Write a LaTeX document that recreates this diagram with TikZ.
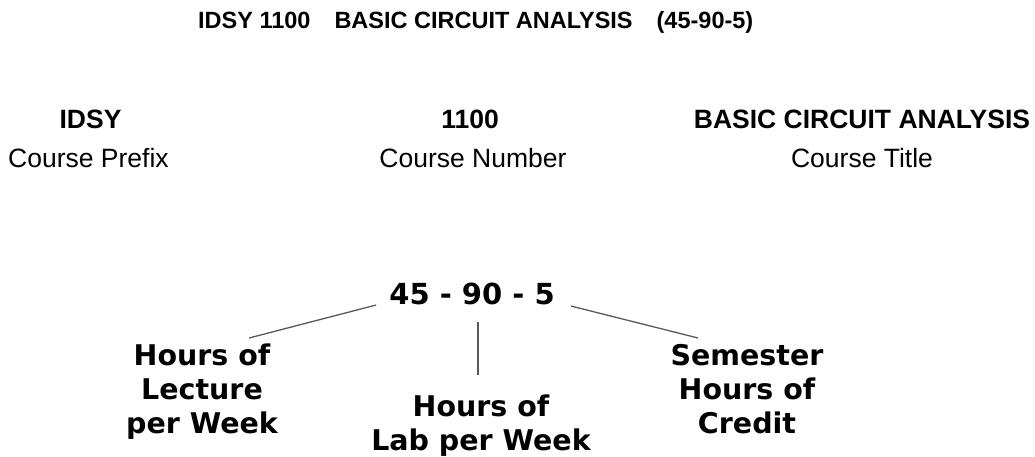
\documentclass[tikz,border=0pt]{standalone}
\usepackage{fontspec}
\setmainfont{Liberation Sans}
\newfontfamily\verd{DejaVu Sans}
\usetikzlibrary{calc}
\begin{document}
\begin{tikzpicture}[x=1pt,y=-1pt,
  txt/.style={inner sep=0pt, anchor=base},
  ttl/.style={txt, font=\fontsize{23.5}{28}\selectfont\bfseries},
  head/.style={txt, font=\fontsize{26.5}{32}\selectfont\bfseries},
  sub/.style={txt, font=\fontsize{26.5}{32}\selectfont},
  big/.style={inner sep=0pt, font=\verd\fontsize{28.5}{34}\selectfont\bfseries, align=center, anchor=north},
  conn/.style={draw=black!65, line width=1.3pt}]
\path[use as bounding box, fill=white] (0,0) rectangle (1035,456);
% title
\node[ttl, anchor=base west] (title) at (198,28) {IDSY 1100\hspace{24pt}BASIC CIRCUIT ANALYSIS\hspace{24pt}(45-90-5)};
% row 2
\node[head] (pre) at (90.5,128) {IDSY};
\node[sub] (prelbl) at (88.5,167) {Course Prefix};
\node[head] (numb) at (470,128) {1100};
\node[sub] (numblbl) at (473,167) {Course Number};
\node[head] (ctitle) at (862,128) {BASIC CIRCUIT ANALYSIS};
\node[sub] (ctitlelbl) at (862,167) {Course Title};
% bottom
\node[inner sep=0pt, anchor=base, font=\verd\fontsize{29}{34}\selectfont\bfseries] (num) at (472,304) {45 - 90 - 5};
\node[big] (lec) at (202,344) {Hours of\\Lecture\\per Week};
\node[big] (lab) at (481,395) {Hours of\\Lab per Week};
\node[big] (cred) at (747,344) {Semester\\Hours of\\Credit};
\coordinate (vtop) at ($(num.base)+(6,18)$);
\coordinate (vbot) at ($(lab.north)+(0,-20)$);
\draw[conn] ($(lec.north)+(47,-6)$) -- ($(num.base west)+(-13,1)$);
\draw[conn] (vtop) -- (vtop |- vbot);
\draw[conn] ($(num.base east)+(16,2)$) -- ($(cred.north)+(-49,-6)$);
\end{tikzpicture}
\end{document}
